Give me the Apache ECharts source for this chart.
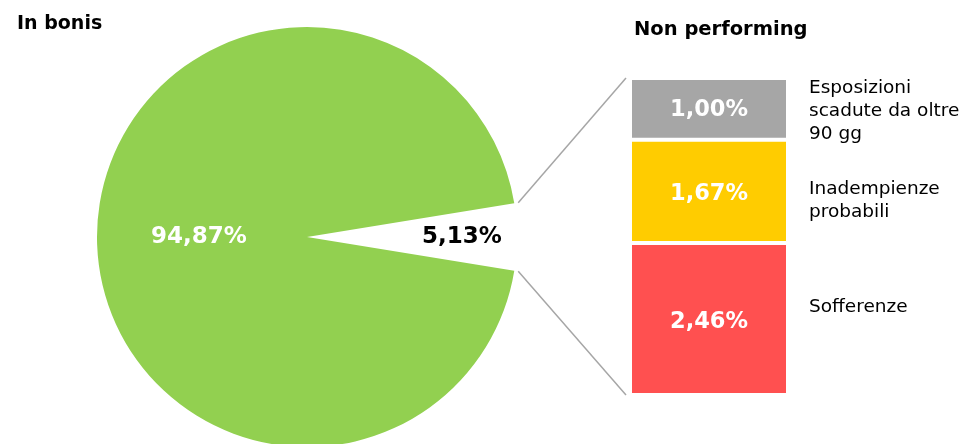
<!DOCTYPE html>
<html>
<head>
<meta charset="utf-8">
<script src="https://cdn.jsdelivr.net/npm/echarts@6/dist/echarts.min.js"></script>
<style>
  html, body { margin: 0; padding: 0; background: #fff; }
  #chart { width: 972px; height: 444px; }
</style>
</head>
<body>
<div id="chart"></div>
<script>
// dati
const pieNames = ['In bonis', 'Non performing']
const pieValues = [94.87, 5.13]
const npNames = ['Sofferenze', 'Inadempienze\nprobabili', 'Esposizioni\nscadute da oltre\n90 gg']
const npValues = [2.46, 1.67, 1.00]

const font = 'DejaVu Sans'
const npColors = ['#FF5050', '#FFCC00', '#A6A6A6']
const nameOffsets = [[0, -12], [0, 9], [0, 2]]
const valueOffsets = [[0, 3], [0, 3], [0, 1]]
const pieCenter = [307, 237]
const pieRadius = 210

const fmt = v => v.toFixed(2).replace('.', ',') + '%'

const npTotal = npValues.reduce((a, b) => a + b, 0)
const halfAngle = pieValues[1] / (pieValues[0] + pieValues[1]) * 180

const chart = echarts.init(document.getElementById('chart'))

const barSeries = npValues.map((v, i) => ({
  type: 'bar',
  name: npNames[i],
  stack: 'np',
  barWidth: '100%',
  silent: true,
  data: [v],
  itemStyle: { color: npColors[i], borderColor: '#fff', borderWidth: 2 },
  label: {
    show: true,
    position: 'inside',
    offset: valueOffsets[i],
    formatter: p => fmt(p.value),
    color: '#fff',
    fontFamily: font,
    fontWeight: 'bold',
    fontSize: 22.5
  }
}))

// serie trasparenti solo per le etichette a destra
const nameSeries = npValues.map((v, i) => ({
  type: 'bar',
  stack: 'names',
  barWidth: '100%',
  barGap: '-100%',
  silent: true,
  data: [v],
  itemStyle: { color: 'transparent' },
  label: {
    show: true,
    position: 'right',
    distance: 21,
    offset: nameOffsets[i],
    align: 'left',
    formatter: npNames[i],
    color: '#000',
    fontFamily: font,
    fontSize: 18.5,
    lineHeight: 23
  }
}))

const option = {
  animation: false,
  title: [
    { text: pieNames[0], left: 12, top: 10, textStyle: { fontFamily: font, fontWeight: 'bold', fontSize: 19, color: '#000' } },
    { text: pieNames[1], left: 629, top: 15, textStyle: { fontFamily: font, fontWeight: 'bold', fontSize: 19.5, color: '#000' } }
  ],
  grid: { left: 630, top: 78, width: 158, height: 317 },
  xAxis: { type: 'category', data: [''], show: false },
  yAxis: { type: 'value', min: 0, max: npTotal, show: false },
  series: [
    {
      type: 'pie',
      center: pieCenter,
      radius: pieRadius,
      startAngle: halfAngle,
      clockwise: true,
      silent: true,
      data: [
        {
          value: pieValues[1],
          name: pieNames[1],
          itemStyle: { color: 'transparent' },
          label: { color: '#000', padding: [0, 0, 0, 94] }
        },
        {
          value: pieValues[0],
          name: pieNames[0],
          itemStyle: { color: '#92D050' },
          label: { color: '#fff' }
        }
      ],
      label: {
        show: true,
        position: 'inside',
        formatter: p => fmt(p.value),
        fontFamily: font,
        fontWeight: 'bold',
        fontSize: 23
      },
      labelLine: { show: false }
    },
    ...barSeries,
    ...nameSeries
  ]
}

chart.setOption(option)

// linee di collegamento torta -> colonna
const rad = halfAngle * Math.PI / 180
const px = pieCenter[0] + (pieRadius + 4) * Math.cos(rad)
const dy = (pieRadius + 4) * Math.sin(rad)
const topY = chart.convertToPixel({ gridIndex: 0 }, [0, npTotal])[1]
const botY = chart.convertToPixel({ gridIndex: 0 }, [0, 0])[1]
const lineX = option.grid.left - 4
chart.setOption({
  graphic: [
    { type: 'line', shape: { x1: px, y1: pieCenter[1] - dy, x2: lineX, y2: topY }, style: { stroke: '#A6A6A6', lineWidth: 1.5 }, silent: true },
    { type: 'line', shape: { x1: px, y1: pieCenter[1] + dy, x2: lineX, y2: botY }, style: { stroke: '#A6A6A6', lineWidth: 1.5 }, silent: true }
  ]
})
</script>
</body>
</html>
